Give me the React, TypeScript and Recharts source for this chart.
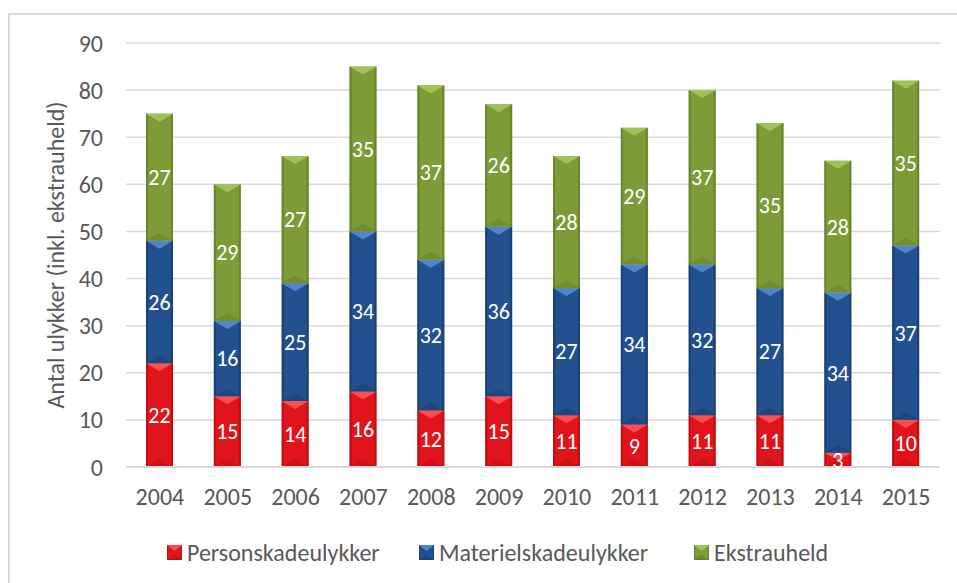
import { BarChart, Bar, XAxis, YAxis, CartesianGrid, LabelList } from 'recharts'

const years = ['2004', '2005', '2006', '2007', '2008', '2009', '2010', '2011', '2012', '2013', '2014', '2015']
const personskade = [22, 15, 14, 16, 12, 15, 11, 9, 11, 11, 3, 10]
const materielskade = [26, 16, 25, 34, 32, 36, 27, 34, 32, 27, 34, 37]
const ekstrauheld = [27, 29, 27, 35, 37, 26, 28, 29, 37, 35, 28, 35]
const yTicks = [0, 10, 20, 30, 40, 50, 60, 70, 80, 90]

const FONT = 'Calibri, Carlito, Lato, sans-serif'
const TEXT = '#595959'
const GRID = '#d9d9d9'

type Tone = { base: string; light: string; dark: string }
const RED: Tone = { base: '#e2141b', light: '#ff5a5a', dark: '#a60c10' }
const BLUE: Tone = { base: '#23508e', light: '#5a8fd6', dark: '#163762' }
const GREEN: Tone = { base: '#7d9b36', light: '#a8c95c', dark: '#5b7423' }

const data = years.map((y, i) => ({
  year: y,
  person: personskade[i],
  materiel: materielskade[i],
  ekstra: ekstrauheld[i],
}))

// Excel-agtig "bevel" søjle: lys trekant foroven, mørke kanter
function BevelBar(props: any) {
  const { x, y, width: w, height: h, tone } = props as { x: number; y: number; width: number; height: number; tone: Tone }
  if (!h || h <= 0) return null
  const d = Math.min(8, h / 2)
  return (
    <g>
      <rect x={x} y={y} width={w} height={h} fill={tone.base} />
      <rect x={x} y={y} width={2} height={h} fill={tone.dark} opacity={0.6} />
      <rect x={x + w - 2} y={y} width={2} height={h} fill={tone.dark} opacity={0.6} />
      <polygon points={`${x},${y} ${x + w},${y} ${x + w / 2},${y + d}`} fill={tone.light} opacity={0.85} />
      <polygon points={`${x},${y + h} ${x + w},${y + h} ${x + w / 2},${y + h - d}`} fill={tone.dark} opacity={0.35} />
    </g>
  )
}

function Marker({ tone }: { tone: Tone }) {
  return (
    <svg width={15} height={15} style={{ display: 'block' }}>
      <rect x={0} y={0} width={15} height={15} fill={tone.base} />
      <rect x={0.5} y={0.5} width={14} height={14} fill="none" stroke={tone.dark} strokeWidth={1} opacity={0.6} />
      <polygon points="0,0 15,0 7.5,6" fill={tone.light} opacity={0.85} />
      <polygon points="0,15 15,15 7.5,10" fill={tone.dark} opacity={0.4} />
    </svg>
  )
}

const legendItems = [
  { name: 'Personskadeulykker', tone: RED, left: 167 },
  { name: 'Materielskadeulykker', tone: BLUE, left: 419 },
  { name: 'Ekstrauheld', tone: GREEN, left: 694 },
]

export default function App() {
  const labelStyle = { fill: '#ffffff', fontSize: 22, fontFamily: FONT }
  const tickStyle = { fill: TEXT, fontSize: 24, fontFamily: FONT }
  return (
    <div style={{ position: 'absolute', left: 0, top: 0, width: 957, height: 583, background: '#fff', overflow: 'hidden' }}>
      <div
        style={{
          position: 'absolute', left: 8, top: 13, width: 980, height: 620,
          border: `2px solid ${GRID}`, boxSizing: 'border-box',
        }}
      />
      <div style={{ position: 'absolute', left: 0, top: 0 }}>
        <BarChart width={957} height={583} data={data} margin={{ top: 43, right: 17, bottom: 86, left: 0 }}>
          <CartesianGrid vertical={false} stroke={GRID} strokeWidth={1.5} />
          <XAxis
            dataKey="year"
            axisLine={{ stroke: GRID, strokeWidth: 2 }}
            tickLine={false}
            tickSize={0}
            tickMargin={21}
            height={30}
            tick={tickStyle}
          />
          <YAxis
            domain={[0, 90]}
            ticks={yTicks}
            interval={0}
            axisLine={false}
            tickLine={false}
            tickSize={0}
            tickMargin={23}
            width={126}
            tick={tickStyle}
            label={{
              value: 'Antal ulykker (inkl. ekstrauheld)',
              angle: -90,
              position: 'insideLeft',
              offset: 0,
              dx: 55,
              style: { fill: TEXT, fontSize: 24, fontFamily: FONT, textAnchor: 'middle' },
            }}
          />
          <Bar dataKey="person" stackId="a" barSize={27} isAnimationActive={false} shape={(p: any) => <BevelBar {...p} tone={RED} />}>
            <LabelList dataKey="person" position="center" style={labelStyle} />
          </Bar>
          <Bar dataKey="materiel" stackId="a" barSize={27} isAnimationActive={false} shape={(p: any) => <BevelBar {...p} tone={BLUE} />}>
            <LabelList dataKey="materiel" position="center" style={labelStyle} />
          </Bar>
          <Bar dataKey="ekstra" stackId="a" barSize={27} isAnimationActive={false} shape={(p: any) => <BevelBar {...p} tone={GREEN} />}>
            <LabelList dataKey="ekstra" position="center" style={labelStyle} />
          </Bar>
        </BarChart>
      </div>
      {legendItems.map((it) => (
        <div
          key={it.name}
          style={{
            position: 'absolute', left: it.left, top: 537, height: 30,
            display: 'flex', alignItems: 'center', gap: 5,
            fontFamily: FONT, fontSize: 24, color: TEXT, whiteSpace: 'nowrap',
          }}
        >
          <Marker tone={it.tone} />
          <span>{it.name}</span>
        </div>
      ))}
    </div>
  )
}
